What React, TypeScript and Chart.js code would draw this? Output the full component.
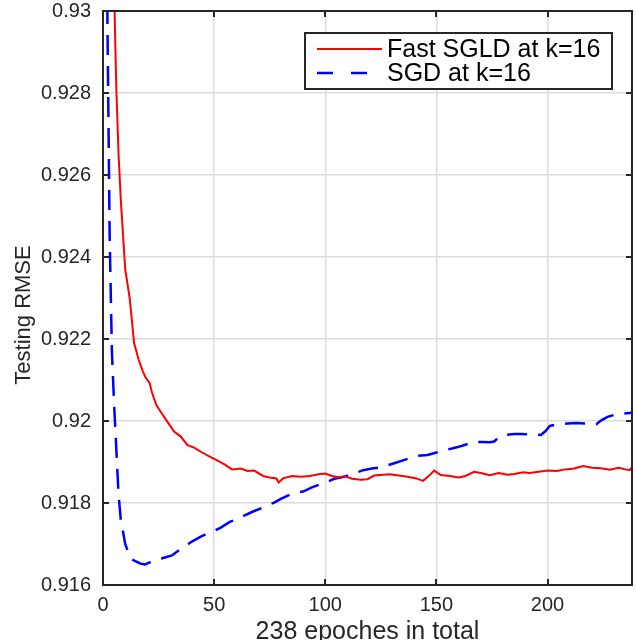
import React, { useEffect, useRef } from "react";
import { Chart, registerables } from "chart.js";

Chart.register(...registerables);

// ---- data ----
const sgldEpochs = [1, 2, 3, 4, 5, 6, 7, 8, 10, 12, 14, 16, 18, 19, 21, 22, 24, 26, 29, 32, 35, 38, 41, 44, 48, 52, 55, 58, 62, 65, 68, 72, 75, 78, 79, 81, 85, 89, 93, 97, 100, 103, 106, 109, 112, 116, 119, 122, 126, 129, 133, 137, 141, 144, 147, 149, 152, 156, 160, 163, 167, 170, 174, 178, 182, 185, 189, 192, 196, 200, 204, 208, 212, 216, 220, 224, 228, 232, 235, 237, 238];
const sgldRmse = [0.965, 0.95, 0.94, 0.934, 0.9305, 0.9281, 0.9265, 0.9254, 0.9237, 0.923, 0.9219, 0.9215, 0.9212, 0.92108, 0.92092, 0.9207, 0.92039, 0.92022, 0.91998, 0.91974, 0.91962, 0.91941, 0.91935, 0.91925, 0.91913, 0.91902, 0.91893, 0.91882, 0.91884, 0.91878, 0.91879, 0.91866, 0.91862, 0.9186, 0.9185, 0.9186, 0.91866, 0.91864, 0.91866, 0.9187, 0.91872, 0.91866, 0.91863, 0.91865, 0.91859, 0.91857, 0.91858, 0.91867, 0.91869, 0.9187, 0.91867, 0.91864, 0.9186, 0.91854, 0.91868, 0.91879, 0.91868, 0.91866, 0.91862, 0.91866, 0.91876, 0.91873, 0.91868, 0.91873, 0.91869, 0.91871, 0.91875, 0.91873, 0.91876, 0.91879, 0.91878, 0.91882, 0.91884, 0.9189, 0.91886, 0.91885, 0.91881, 0.91886, 0.91882, 0.9188, 0.91887];

const sgdEpochs = [1, 2, 3, 4, 5, 6, 7, 8, 10, 11, 12, 13, 15, 17, 19, 21, 23, 25, 27, 29, 31, 34, 37, 40, 44, 47, 50, 53, 57, 60, 63, 67, 71, 74, 77, 80, 84, 87, 90, 94, 98, 101, 104, 107, 111, 114, 117, 121, 125, 128, 131, 135, 139, 142, 146, 150, 153, 157, 160, 163, 167, 171, 174, 176, 178, 181, 185, 188, 193, 197, 199, 201, 205, 209, 213, 217, 222, 224, 227, 230, 234, 238];
const sgdRmse = [0.94, 0.9297, 0.9245, 0.9217, 0.9204, 0.9193, 0.9182, 0.9176, 0.917, 0.91685, 0.91672, 0.91662, 0.91657, 0.91652, 0.9165, 0.91655, 0.91658, 0.91661, 0.91666, 0.91669, 0.91672, 0.91684, 0.91695, 0.91706, 0.91718, 0.91726, 0.91732, 0.9174, 0.91754, 0.9176, 0.91768, 0.91778, 0.91787, 0.91795, 0.91801, 0.9181, 0.9182, 0.91826, 0.91828, 0.91838, 0.91846, 0.91852, 0.91859, 0.91862, 0.91868, 0.91874, 0.9188, 0.91884, 0.91887, 0.91892, 0.91897, 0.91904, 0.91911, 0.91915, 0.91917, 0.91923, 0.91929, 0.91933, 0.91937, 0.91942, 0.91949, 0.91949, 0.91948, 0.9195, 0.9196, 0.91966, 0.91968, 0.91968, 0.91967, 0.91966, 0.91975, 0.91988, 0.91992, 0.91994, 0.91995, 0.91994, 0.91992, 0.92001, 0.9201, 0.92015, 0.92018, 0.9202];

const xTickValues = [0, 50, 100, 150, 200];
const xTickLabels = ["0", "50", "100", "150", "200"];
const yTickValues = [0.916, 0.918, 0.92, 0.922, 0.924, 0.926, 0.928, 0.93];
const yTickLabels = ["0.916", "0.918", "0.92", "0.922", "0.924", "0.926", "0.928", "0.93"];
const seriesLabels = ["Fast SGLD at k=16", "SGD at k=16"];
const xTitle = "238 epoches in total";
const yTitle = "Testing RMSE";

const FONT = '"Liberation Sans", Arial, Helvetica, sans-serif';
const AXIS_COLOR = "#262626";
const RED = "#ff0000";
const BLUE = "#0000ff";

const matlabPlugin = {
  id: "matlabDecor",
  afterDatasetsDraw(chart: any) {
    const { ctx, chartArea, scales } = chart;
    const { left, right, top, bottom } = chartArea;
    const xs = scales.x;
    const ys = scales.y;
    ctx.save();
    // box
    ctx.strokeStyle = AXIS_COLOR;
    ctx.lineWidth = 2;
    ctx.strokeRect(left, top, right - left, bottom - top);
    // inward ticks on all four sides
    const tl = 6;
    ctx.lineWidth = 2;
    ctx.beginPath();
    xTickValues.forEach((v) => {
      const px = Math.round(xs.getPixelForValue(v));
      ctx.moveTo(px, bottom);
      ctx.lineTo(px, bottom - tl);
      ctx.moveTo(px, top);
      ctx.lineTo(px, top + tl);
    });
    yTickValues.forEach((v) => {
      const py = Math.round(ys.getPixelForValue(v));
      ctx.moveTo(left, py);
      ctx.lineTo(left + tl, py);
      ctx.moveTo(right, py);
      ctx.lineTo(right - tl, py);
    });
    ctx.stroke();

    // axis titles
    ctx.fillStyle = AXIS_COLOR;
    ctx.font = `25px ${FONT}`;
    ctx.textAlign = "center";
    ctx.textBaseline = "alphabetic";
    ctx.fillText(xTitle, (left + right) / 2, 639);
    ctx.save();
    ctx.translate(30, 315);
    ctx.rotate(-Math.PI / 2);
    ctx.font = `22px ${FONT}`;
    ctx.textBaseline = "alphabetic";
    ctx.fillText(yTitle, 0, 0);
    ctx.restore();

    // legend box
    const bx = right - 327;
    const by = top + 22;
    const bw = 307;
    const bh = 56;
    ctx.fillStyle = "#ffffff";
    ctx.fillRect(bx, by, bw, bh);
    ctx.strokeStyle = AXIS_COLOR;
    ctx.lineWidth = 2;
    ctx.strokeRect(bx, by, bw, bh);
    const rows = [by + 16, by + 40];
    const lx0 = bx + 12;
    const lx1 = bx + 77;
    ctx.lineWidth = 2;
    ctx.strokeStyle = RED;
    ctx.setLineDash([]);
    ctx.beginPath();
    ctx.moveTo(lx0, rows[0]);
    ctx.lineTo(lx1, rows[0]);
    ctx.stroke();
    ctx.strokeStyle = BLUE;
    ctx.lineWidth = 2.5;
    ctx.setLineDash([16, 18]);
    ctx.beginPath();
    ctx.moveTo(lx0, rows[1]);
    ctx.lineTo(lx1, rows[1]);
    ctx.stroke();
    ctx.setLineDash([]);
    ctx.fillStyle = "#000000";
    ctx.font = `25px ${FONT}`;
    ctx.textAlign = "left";
    ctx.textBaseline = "middle";
    ctx.fillText(seriesLabels[0], bx + 82, rows[0] + 1);
    ctx.fillText(seriesLabels[1], bx + 82, rows[1] + 1);
    ctx.restore();
  },
};

export default function App() {
  const canvasRef = useRef<HTMLCanvasElement | null>(null);

  useEffect(() => {
    if (!canvasRef.current) return;
    const sgldData = sgldEpochs.map((e, i) => ({ x: e, y: sgldRmse[i] }));
    const sgdData = sgdEpochs.map((e, i) => ({ x: e, y: sgdRmse[i] }));
    const chart = new Chart(canvasRef.current, {
      type: "line",
      data: {
        datasets: [
          {
            label: seriesLabels[0],
            data: sgldData,
            borderColor: RED,
            backgroundColor: RED,
            borderWidth: 2,
            pointRadius: 0,
            tension: 0,
            fill: false,
          },
          {
            label: seriesLabels[1],
            data: sgdData,
            borderColor: BLUE,
            backgroundColor: BLUE,
            borderWidth: 2.5,
            borderDash: [20, 11],
            pointRadius: 0,
            tension: 0,
            fill: false,
          },
        ],
      },
      options: {
        responsive: false,
        animation: false,
        devicePixelRatio: 1,
        events: [],
        layout: { padding: { left: 0, right: 4, top: 11, bottom: 0 } },
        plugins: {
          legend: { display: false },
          tooltip: { enabled: false },
          title: { display: false },
        },
        scales: {
          x: {
            type: "linear",
            min: 0,
            max: 238,
            afterBuildTicks: (scale: any) => {
              scale.ticks = xTickValues.map((v) => ({ value: v }));
            },
            afterFit: (scale: any) => {
              scale.height = 55;
              scale.paddingLeft = 0;
              scale.paddingRight = 0;
            },
            ticks: {
              autoSkip: false,
              maxRotation: 0,
              padding: 10,
              color: AXIS_COLOR,
              font: { family: FONT, size: 20, lineHeight: 1 },
              callback: (_v: any, i: number) => xTickLabels[i],
            },
            grid: { color: "#dcdcdc", lineWidth: 1.5, drawTicks: false },
            border: { display: false },
          },
          y: {
            type: "linear",
            min: 0.916,
            max: 0.93,
            afterBuildTicks: (scale: any) => {
              scale.ticks = yTickValues.map((v) => ({ value: v }));
            },
            afterFit: (scale: any) => {
              scale.width = 103;
              scale.paddingTop = 0;
              scale.paddingBottom = 0;
            },
            ticks: {
              autoSkip: false,
              padding: 12,
              color: AXIS_COLOR,
              font: { family: FONT, size: 20, lineHeight: 1 },
              callback: (_v: any, i: number) => yTickLabels[i],
            },
            grid: { color: "#dcdcdc", lineWidth: 1.5, drawTicks: false },
            border: { display: false },
          },
        },
      },
      plugins: [matlabPlugin],
    });
    return () => chart.destroy();
  }, []);

  return (
    <div style={{ position: "fixed", left: 0, top: 0, width: 636, height: 640, background: "#ffffff" }}>
      <canvas ref={canvasRef} width={636} height={640} style={{ display: "block", width: 636, height: 640 }} />
    </div>
  );
}
